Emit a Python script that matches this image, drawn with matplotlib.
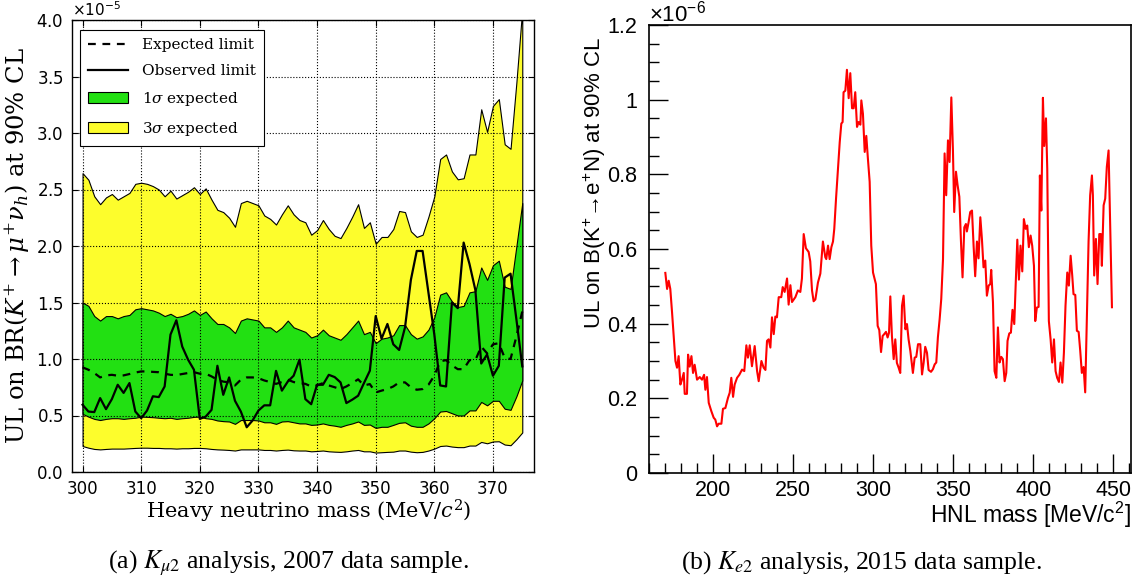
import matplotlib
matplotlib.use("Agg")
import matplotlib.pyplot as plt
import numpy as np
from matplotlib.lines import Line2D
from matplotlib.patches import Patch
from matplotlib.ticker import MultipleLocator, FuncFormatter

plt.rcParams['font.family'] = ['DejaVu Sans']
plt.rcParams['mathtext.fontset'] = 'dejavuserif'
plt.rcParams['mathtext.rm'] = 'Liberation Sans'
plt.rcParams['mathtext.it'] = 'Liberation Sans:italic'
plt.rcParams['mathtext.bf'] = 'Liberation Sans:bold'

# ---------------- Panel (a): K_mu2, 2007 data (values in units of 1e-5) ----------------
mass_a = list(range(300, 376))
sig3_up = [2.645, 2.586, 2.44, 2.37, 2.43, 2.46, 2.41, 2.44, 2.47, 2.55,
           2.56, 2.55, 2.53, 2.50, 2.44, 2.49, 2.42, 2.45, 2.48, 2.52,
           2.46, 2.51, 2.41, 2.32, 2.30, 2.25, 2.17, 2.38, 2.40, 2.38,
           2.36, 2.27, 2.24, 2.19, 2.28, 2.36, 2.28, 2.23, 2.21, 2.10,
           2.14, 2.23, 2.15, 2.09, 2.07, 2.16, 2.26, 2.37, 2.16, 2.21,
           2.02, 2.08, 2.08, 2.15, 2.31, 2.30, 2.13, 2.08, 2.10, 2.26,
           2.44, 2.77, 2.81, 2.66, 2.59, 2.60, 2.81, 2.81, 3.21, 3.01,
           3.24, 3.30, 2.90, 2.86, 3.45, 4.1]
sig1_up = [1.50, 1.47, 1.38, 1.34, 1.38, 1.38, 1.36, 1.38, 1.39, 1.44,
           1.45, 1.44, 1.43, 1.41, 1.38, 1.40, 1.37, 1.38, 1.40, 1.43,
           1.39, 1.42, 1.36, 1.31, 1.31, 1.28, 1.23, 1.34, 1.36, 1.35,
           1.34, 1.28, 1.28, 1.24, 1.28, 1.34, 1.28, 1.26, 1.24, 1.19,
           1.21, 1.26, 1.21, 1.19, 1.17, 1.22, 1.28, 1.34, 1.22, 1.24,
           1.14, 1.18, 1.19, 1.21, 1.30, 1.30, 1.22, 1.18, 1.20, 1.26,
           1.37, 1.57, 1.59, 1.51, 1.46, 1.47, 1.59, 1.60, 1.81, 1.70,
           1.83, 1.87, 1.64, 1.62, 2.00, 2.38]
sig1_lo = [0.515, 0.49, 0.47, 0.46, 0.47, 0.476, 0.476, 0.47, 0.476, 0.48,
           0.49, 0.488, 0.485, 0.48, 0.476, 0.48, 0.47, 0.476, 0.48, 0.488,
           0.49, 0.476, 0.47, 0.456, 0.45, 0.447, 0.426, 0.46, 0.46, 0.46,
           0.456, 0.44, 0.44, 0.426, 0.447, 0.45, 0.44, 0.43, 0.43, 0.417,
           0.42, 0.43, 0.417, 0.41, 0.40, 0.417, 0.43, 0.447, 0.417, 0.42,
           0.39, 0.40, 0.40, 0.417, 0.435, 0.44, 0.41, 0.40, 0.40, 0.43,
           0.476, 0.535, 0.54, 0.52, 0.50, 0.50, 0.545, 0.545, 0.62, 0.59,
           0.63, 0.63, 0.56, 0.55, 0.67, 0.81]
sig3_lo = [0.23, 0.215, 0.204, 0.20, 0.204, 0.207, 0.207, 0.207, 0.21, 0.213,
           0.215, 0.215, 0.213, 0.213, 0.21, 0.21, 0.207, 0.21, 0.21, 0.213,
           0.213, 0.21, 0.204, 0.20, 0.198, 0.195, 0.19, 0.20, 0.20, 0.20,
           0.20, 0.195, 0.195, 0.19, 0.195, 0.198, 0.192, 0.19, 0.19, 0.183,
           0.186, 0.19, 0.183, 0.18, 0.178, 0.183, 0.19, 0.195, 0.183, 0.183,
           0.172, 0.175, 0.178, 0.18, 0.19, 0.19, 0.18, 0.175, 0.178, 0.19,
           0.207, 0.23, 0.234, 0.225, 0.22, 0.22, 0.234, 0.234, 0.266, 0.254,
           0.27, 0.272, 0.243, 0.237, 0.29, 0.35]
expected = [0.926, 0.905, 0.876, 0.837, 0.855, 0.86, 0.852, 0.855, 0.867, 0.88,
            0.89, 0.89, 0.886, 0.883, 0.87, 0.86, 0.858, 0.867, 0.876, 0.883,
            0.87, 0.87, 0.846, 0.817, 0.80, 0.793, 0.766, 0.817, 0.837, 0.837,
            0.83, 0.81, 0.796, 0.78, 0.796, 0.817, 0.796, 0.787, 0.78, 0.757,
            0.766, 0.787, 0.766, 0.75, 0.734, 0.757, 0.787, 0.82, 0.766, 0.778,
            0.704, 0.72, 0.734, 0.757, 0.793, 0.793, 0.75, 0.728, 0.734, 0.772,
            0.852, 0.98, 0.99, 0.944, 0.91, 0.91, 0.99, 0.99, 1.11, 1.05,
            1.13, 1.14, 1.01, 1.00, 1.20, 1.42]
observed = [0.595, 0.535, 0.53, 0.654, 0.556, 0.645, 0.772, 0.70, 0.787, 0.535,
            0.476, 0.544, 0.67, 0.663, 0.757, 1.216, 1.343, 1.11, 0.994, 0.905,
            0.47, 0.49, 0.55, 0.94, 0.683, 0.837, 0.63, 0.535, 0.396, 0.456,
            0.544, 0.59, 0.59, 0.895, 0.72, 0.80, 0.852, 0.994, 0.645, 0.60,
            0.772, 0.772, 0.86, 0.84, 0.793, 0.61, 0.64, 0.675, 0.787, 0.896,
            1.38, 1.18, 1.31, 1.13, 1.08, 1.28, 1.70, 1.956, 1.956, 1.586,
            1.216, 0.766, 0.757, 1.50, 1.45, 2.03, 1.84, 1.61, 0.96, 1.04,
            0.852, 0.94, 1.72, 1.755, 1.35, 0.935]
scale_a = 1e-5

# ---------------- Panel (b): K_e2, 2015 data (values in units of 1e-6) ----------------
mass_b = [170.2, 171.3, 172.3, 173.3, 174.4, 175.4, 176.5, 177.5, 178.5, 179.6,
          180.6, 181.7, 182.3, 183.7, 184.4, 185.4, 186.5, 187.5, 188.5, 190.0,
          191.7, 193.1, 194.4, 195.2, 196.2, 197.3, 198.9, 200.4, 201.4, 202.5,
          203.5, 205.2, 206.2, 207.7, 209.3, 210.4, 211.4, 212.5, 213.5, 215.0,
          216.4, 218.1, 219.5, 220.8, 221.8, 222.9, 224.3, 226.0, 227.5, 228.5,
          230.2, 231.6, 232.7, 233.7, 234.7, 235.8, 236.8, 237.9, 238.9, 239.9,
          241.0, 242.6, 243.5, 244.7, 246.2, 247.2, 248.3, 249.3, 251.4, 253.0,
          254.5, 255.5, 256.6, 258.0, 259.7, 260.7, 261.8, 262.8, 263.9, 265.5,
          267.0, 268.6, 270.1, 270.7, 271.8, 272.8, 273.9, 274.9, 275.7, 276.8,
          277.8, 279.1, 280.1, 280.9, 281.5, 282.6, 283.6, 284.7, 285.7, 286.8,
          287.8, 288.8, 289.9, 290.9, 292.0, 292.6, 293.6, 294.7, 295.7, 296.7,
          297.8, 298.8, 299.9, 300.9, 301.7, 302.8, 303.8, 304.9, 305.9, 306.9,
          308.0, 309.0, 309.9, 310.7, 311.7, 312.8, 313.8, 314.8, 315.9, 316.9,
          318.0, 319.0, 320.1, 321.1, 322.1, 323.2, 324.2, 324.8, 325.9, 326.9,
          328.0, 329.4, 330.5, 331.5, 332.5, 333.6, 334.6, 336.1, 337.3, 338.4,
          339.4, 340.4, 341.5, 342.5, 343.6, 344.6, 345.6, 346.7, 347.7, 348.8,
          349.8, 350.6, 351.7, 352.7, 353.8, 354.8, 355.8, 356.9, 357.9, 358.5,
          359.6, 360.6, 361.7, 362.7, 363.7, 364.8, 365.8, 366.9, 367.9, 368.9,
          370.0, 371.0, 372.1, 373.1, 373.7, 374.8, 375.8, 376.9, 377.9, 378.9,
          380.0, 381.0, 382.1, 383.1, 383.9, 385.0, 386.0, 387.0, 388.1, 389.1,
          390.0, 391.0, 392.0, 393.1, 394.1, 395.2, 396.2, 397.2, 398.3, 399.3,
          400.4, 401.2, 402.2, 403.3, 404.1, 405.0, 406.0, 406.8, 407.9, 408.7,
          409.7, 410.8, 411.8, 412.9, 413.9, 414.9, 416.0, 417.0, 418.1, 419.1,
          420.1, 421.2, 422.2, 423.3, 424.3, 425.1, 426.2, 427.2, 428.3, 429.3,
          430.3, 431.4, 432.4, 433.5, 434.5, 435.5, 436.6, 437.2, 438.0, 439.1,
          440.1, 441.2, 442.2, 442.8, 443.9, 444.9, 445.9, 447.0, 449.1]
ul_b = [0.536, 0.493, 0.515, 0.493, 0.43, 0.367, 0.30, 0.282, 0.313, 0.237,
        0.25, 0.268, 0.212, 0.212, 0.317, 0.285, 0.313, 0.268, 0.29, 0.25,
        0.257, 0.25, 0.263, 0.223, 0.257, 0.188, 0.166, 0.148, 0.143, 0.125,
        0.132, 0.132, 0.172, 0.174, 0.201, 0.215, 0.255, 0.204, 0.237, 0.255,
        0.263, 0.277, 0.273, 0.342, 0.309, 0.342, 0.286, 0.34, 0.273, 0.246,
        0.30, 0.282, 0.276, 0.354, 0.358, 0.336, 0.417, 0.372, 0.419, 0.417,
        0.471, 0.471, 0.498, 0.485, 0.521, 0.451, 0.503, 0.458, 0.471, 0.489,
        0.485, 0.521, 0.64, 0.602, 0.592, 0.567, 0.489, 0.46, 0.465, 0.51,
        0.534, 0.62, 0.578, 0.573, 0.609, 0.573, 0.605, 0.62, 0.654, 0.735,
        0.802, 0.886, 0.936, 0.94, 1.02, 1.024, 1.08, 1.004, 1.071, 0.977,
        0.977, 1.02, 0.927, 0.94, 0.933, 0.998, 0.962, 0.86, 0.903, 0.842,
        0.78, 0.609, 0.537, 0.52, 0.506, 0.394, 0.383, 0.324, 0.367, 0.372,
        0.378, 0.363, 0.376, 0.473, 0.367, 0.305, 0.358, 0.295, 0.282, 0.268,
        0.448, 0.475, 0.385, 0.399, 0.358, 0.327, 0.291, 0.268, 0.309, 0.311,
        0.345, 0.345, 0.264, 0.295, 0.338, 0.322, 0.276, 0.271, 0.278, 0.291,
        0.296, 0.363, 0.412, 0.466, 0.573, 0.856, 0.744, 0.891, 0.833, 1.006,
        0.865, 0.699, 0.807, 0.771, 0.74, 0.622, 0.524, 0.658, 0.667, 0.647,
        0.672, 0.699, 0.703, 0.609, 0.527, 0.62, 0.575, 0.685, 0.627, 0.551,
        0.569, 0.475, 0.502, 0.506, 0.544, 0.457, 0.273, 0.255, 0.39, 0.296,
        0.311, 0.305, 0.246, 0.268, 0.354, 0.374, 0.376, 0.437, 0.399, 0.52,
        0.625, 0.518, 0.609, 0.54, 0.68, 0.654, 0.663, 0.605, 0.636, 0.609,
        0.555, 0.407, 0.443, 0.445, 0.797, 0.703, 1.005, 0.876, 0.95, 0.815,
        0.407, 0.358, 0.296, 0.358, 0.273, 0.255, 0.244, 0.296, 0.242, 0.322,
        0.448, 0.537, 0.502, 0.582, 0.529, 0.479, 0.477, 0.381, 0.378, 0.327,
        0.268, 0.284, 0.216, 0.428, 0.62, 0.744, 0.797, 0.744, 0.529, 0.627,
        0.506, 0.64, 0.64, 0.555, 0.717, 0.735, 0.82, 0.864, 0.444]

yticks_b = [0, 0.2, 0.4, 0.6, 0.8, 1.0, 1.2]
xticks_b = [200, 250, 300, 350, 400, 450]

# ---------------- Figure ----------------
W, H = 1140, 588
fig = plt.figure(figsize=(W / 100, H / 100), dpi=100)

# ---- Panel (a)
ax1 = fig.add_axes([72 / W, 1 - 472 / H, (534 - 72) / W, (472 - 20) / H])
xa = np.array(mass_a)
YEL = '#fdfd2c'
GRN = '#22e012'
ax1.fill_between(xa, np.array(sig3_lo) * scale_a, np.array(sig3_up) * scale_a,
                 facecolor=YEL, edgecolor='k', linewidth=0.8, zorder=1)
ax1.fill_between(xa, np.array(sig1_lo) * scale_a, np.array(sig1_up) * scale_a,
                 facecolor=GRN, edgecolor='k', linewidth=0.8, zorder=1.2)
ax1.plot(xa, np.array(expected) * scale_a, color='k', lw=1.6, ls=(0, (3.5, 3)), zorder=2)
ax1.plot(xa, np.array(observed) * scale_a, color='k', lw=1.6, zorder=2.1)

ax1.set_xlim(298.2, 377.0)
ax1.set_ylim(0, 4.0e-5)
ax1.yaxis.set_major_locator(MultipleLocator(0.5e-5))
ax1.xaxis.set_major_locator(MultipleLocator(10))
ax1.ticklabel_format(axis='y', style='sci', scilimits=(0, 0), useMathText=True)
ax1.grid(True, color='k', ls=':', lw=0.8)
ax1.set_axisbelow(False)
ax1.tick_params(direction='in', top=True, right=True, length=4, width=0.8,
                labelsize=12, pad=6)
for s in ax1.spines.values():
    s.set_linewidth(1.0)
off = ax1.yaxis.get_offset_text()
off.set_fontsize(11)
off.set_math_fontfamily('dejavusans')

ax1.set_ylabel(r"UL on BR$(K^{+} \to \mu^{+}\nu_h)$ at 90% CL", family='DejaVu Serif',
               fontsize=17.5, math_fontfamily='dejavuserif')
ax1.yaxis.set_label_coords(-0.086, 0.5)
ax1.set_xlabel(r"Heavy neutrino mass (MeV/$c^2$)", family='DejaVu Serif',
               fontsize=15, math_fontfamily='dejavuserif')
ax1.xaxis.set_label_coords(0.513, -0.056)

handles = [Line2D([], [], color='k', lw=1.6, ls=(0, (3.5, 3))),
           Line2D([], [], color='k', lw=1.6),
           Patch(facecolor=GRN, edgecolor='k', lw=0.8),
           Patch(facecolor=YEL, edgecolor='k', lw=0.8)]
labels = ["Expected limit", "Observed limit", r"1$\sigma$ expected", r"3$\sigma$ expected"]
leg = ax1.legend(handles, labels, loc='upper left', bbox_to_anchor=(0.017, 0.978),
                 borderaxespad=0, fancybox=False, framealpha=1, edgecolor='k',
                 prop={'family': 'DejaVu Serif', 'size': 11}, handlelength=2.6,
                 handletextpad=0.9, labelspacing=0.78, borderpad=0.55)
leg.get_frame().set_linewidth(0.8)
for t in leg.get_texts():
    t.set_math_fontfamily('dejavuserif')

# ---- Panel (b)
ax2 = fig.add_axes([649 / W, 1 - 473 / H, (1131 - 649) / W, (473 - 25) / H])
ax2.plot(mass_b, ul_b, color='#ff0000', lw=1.5)
ax2.set_xlim(160, 461)
ax2.set_ylim(0, 1.2)
ax2.set_xticks(xticks_b)
ax2.set_yticks(yticks_b)
ax2.xaxis.set_minor_locator(MultipleLocator(10))
ax2.yaxis.set_minor_locator(MultipleLocator(0.05))
ax2.yaxis.set_major_formatter(FuncFormatter(lambda v, p: f"{v:g}"))
ax2.tick_params(which='both', direction='in', top=False, right=False,
                labelsize=15.5, width=1.0)
ax2.tick_params(which='major', length=14)
ax2.tick_params(which='minor', length=7)
ax2.tick_params(axis='x', pad=5)
ax2.tick_params(axis='y', pad=8.5)
for lab in ax2.get_xticklabels() + ax2.get_yticklabels():
    lab.set_family(['Liberation Sans', 'DejaVu Sans'])
for s in ax2.spines.values():
    s.set_linewidth(1.2)

fig.text(649 / W, 1 - 14 / H, r"$\times$10$^{-6}$", family=['Liberation Sans', 'DejaVu Sans'],
         fontsize=16, ha='left', va='center', math_fontfamily='custom')
fig.text(595 / W, 1 - 37 / H, r"UL on B(K$^{+}$→e$^{+}$N) at 90% CL",
         family=['Liberation Sans', 'DejaVu Sans'], fontsize=16, rotation=90,
         ha='center', va='top', math_fontfamily='custom')
fig.text(1131 / W, 1 - 515 / H, r"HNL mass [MeV/c$^{2}$]",
         family=['Liberation Sans', 'DejaVu Sans'], fontsize=16.5,
         ha='right', va='center', math_fontfamily='custom')

# ---- Captions
fig.text(289 / W, 1 - 563 / H, r"(a) $K_{\mu 2}$ analysis, 2007 data sample.",
         family='Liberation Serif', fontsize=18.5, ha='center', va='center',
         math_fontfamily='stix')
fig.text(862 / W, 1 - 563 / H, r"(b) $K_{e2}$ analysis, 2015 data sample.",
         family='Liberation Serif', fontsize=18.5, ha='center', va='center',
         math_fontfamily='stix')

fig.savefig("out.png", dpi=100)
